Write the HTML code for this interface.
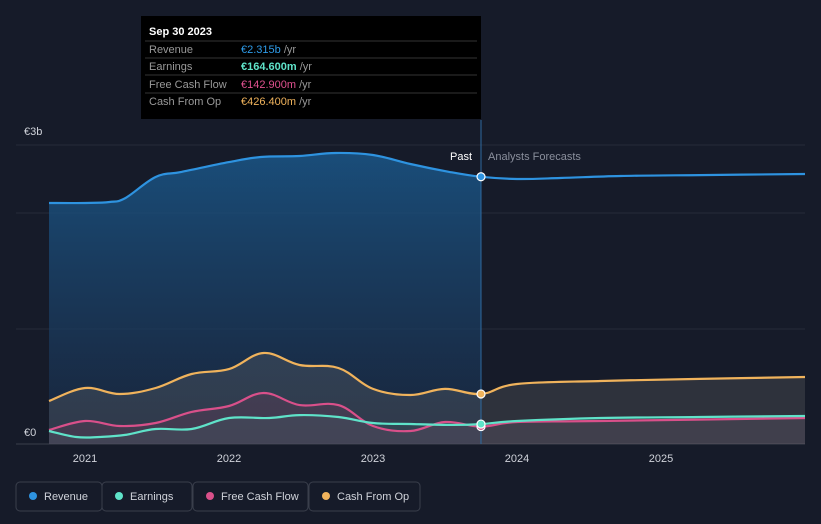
<!DOCTYPE html>
<html><head><meta charset="utf-8"><style>
body{margin:0;background:#161b29;font-family:"Liberation Sans",sans-serif;}
svg{display:block}
</style></head><body>
<svg width="821" height="524" xmlns="http://www.w3.org/2000/svg">
<defs>
<linearGradient id="pg" x1="0" y1="0" x2="0" y2="1"><stop offset="0" stop-color="#1a5688" stop-opacity="0.85"/><stop offset="1" stop-color="#1a2c48" stop-opacity="0.6"/></linearGradient>
<clipPath id="pastclip"><rect x="0" y="0" width="481" height="524"/></clipPath>
</defs>
<rect width="821" height="524" fill="#161b29"/>
<g id="grid"></g>
<g id="areas"></g>
<g id="lines"></g>
<line x1="481" y1="120" x2="481" y2="444" stroke="#2d6aa0" stroke-width="1"/>
<text x="472" y="160" fill="#fff" font-size="11" text-anchor="end">Past</text>
<text x="488" y="160" fill="#8a8f9c" font-size="11">Analysts Forecasts</text>
<text x="24" y="135" fill="#d0d3da" font-size="11">€3b</text>
<text x="24" y="436" fill="#d0d3da" font-size="11">€0</text>
<g id="xt"></g>
<g id="dots"></g>
<g>
<rect x="141" y="16" width="340" height="103" fill="#000"/>
<text x="149" y="35" fill="#fff" font-size="11" font-weight="bold">Sep 30 2023</text>
<line x1="145" y1="41" x2="477" y2="41" stroke="#333"/>
<text x="149" y="53" fill="#999" font-size="11">Revenue</text><text x="241" y="53" font-size="11" fill="#2e9be8">€2.315b <tspan fill="#999">/yr</tspan></text>
<line x1="145" y1="58" x2="477" y2="58" stroke="#333"/>
<text x="149" y="70" fill="#999" font-size="11">Earnings</text><text x="241" y="70" font-size="11" fill="#5fe3c9" font-weight="bold">€164.600m <tspan fill="#999" font-weight="normal">/yr</tspan></text>
<line x1="145" y1="75" x2="477" y2="75" stroke="#333"/>
<text x="149" y="88" fill="#999" font-size="11">Free Cash Flow</text><text x="241" y="88" font-size="11" fill="#e0518f">€142.900m <tspan fill="#999">/yr</tspan></text>
<line x1="145" y1="93" x2="477" y2="93" stroke="#333"/>
<text x="149" y="105" fill="#999" font-size="11">Cash From Op</text><text x="241" y="105" font-size="11" fill="#f0b35c">€426.400m <tspan fill="#999">/yr</tspan></text>
</g>
<g id="legend"></g>
</svg>
<script>
const years=[2021,2022,2023,2024,2025];
const revT=[2020.75,2021,2021.17,2021.28,2021.49,2021.67,2022,2022.22,2022.49,2022.74,2023,2023.26,2023.53,2023.75,2024,2024.3,2024.72,2025.27,2026];
const revV=[2.087,2.087,2.096,2.13,2.313,2.357,2.443,2.487,2.496,2.522,2.504,2.426,2.357,2.315,2.296,2.304,2.322,2.33,2.339];
const cfoT=[2020.75,2021,2021.24,2021.49,2021.74,2022,2022.24,2022.49,2022.76,2023,2023.26,2023.5,2023.75,2024,2024.58,2025.27,2026];
const cfoV=[0.365,0.478,0.426,0.478,0.6,0.643,0.783,0.678,0.652,0.47,0.417,0.47,0.4264,0.513,0.539,0.557,0.574];
const earnT=[2020.75,2020.94,2021.1,2021.28,2021.49,2021.74,2022,2022.28,2022.49,2022.76,2023,2023.26,2023.53,2023.75,2024,2024.58,2025.27,2026];
const earnV=[0.104,0.052,0.052,0.07,0.122,0.122,0.217,0.217,0.243,0.226,0.174,0.165,0.157,0.1646,0.191,0.217,0.226,0.235];
const fcfT=[2020.75,2021,2021.24,2021.49,2021.74,2022,2022.24,2022.49,2022.76,2023,2023.26,2023.5,2023.75,2024,2024.58,2026];
const fcfV=[0.113,0.191,0.148,0.174,0.27,0.322,0.435,0.33,0.33,0.148,0.104,0.183,0.1429,0.183,0.191,0.217];
const X=t=>85+(t-2021)*144, Y=v=>443-v*115;
const NS="http://www.w3.org/2000/svg";
function el(tag,attrs,parent){const e=document.createElementNS(NS,tag);for(const k in attrs)e.setAttribute(k,attrs[k]);document.getElementById(parent).appendChild(e);return e;}
function path(T,V){
 const P=T.map((t,i)=>[X(t),Y(V[i])]);
 let d='M'+P[0][0].toFixed(1)+','+P[0][1].toFixed(1);
 for(let i=0;i<P.length-1;i++){
  const p0=P[Math.max(0,i-1)],p1=P[i],p2=P[i+1],p3=P[Math.min(P.length-1,i+2)];
  const k=0.18;
  const c1=[p1[0]+(p2[0]-p0[0])*k,p1[1]+(p2[1]-p0[1])*k];
  const c2=[p2[0]-(p3[0]-p1[0])*k,p2[1]-(p3[1]-p1[1])*k];
  d+='C'+c1[0].toFixed(1)+','+c1[1].toFixed(1)+' '+c2[0].toFixed(1)+','+c2[1].toFixed(1)+' '+p2[0].toFixed(1)+','+p2[1].toFixed(1);
 }
 return d;
}
[145,213,329,444].forEach(y=>{const g=el('line',{x1:16,x2:805,y1:y,y2:y,stroke:y==444?'#3a3f4c':'#262b39'},'grid');

});
years.forEach(yr=>{const t=el('text',{x:X(yr),y:462,fill:'#d0d3da','font-size':11,'text-anchor':'middle'},'xt');t.textContent=yr;

});
const series=[
 {T:revT,V:revV,c:'#2e93e0',n:'revenue',fill:'url(#pg)',clip:true},
 {T:cfoT,V:cfoV,c:'#f0b35c',n:'cash-from-op',fill:'rgba(110,110,110,0.28)'},
 {T:fcfT,V:fcfV,c:'#d9508a',n:'free-cash-flow',fill:'rgba(150,60,100,0.18)'},
 {T:earnT,V:earnV,c:'#5fe3c9',n:'earnings',fill:'rgba(70,130,130,0.15)'}];
series.forEach(s=>{
 const d=path(s.T,s.V);
 const a=el('path',{d:d+'L'+X(s.T[s.T.length-1])+',444L'+X(s.T[0])+',444Z',fill:s.fill},'areas');
 if(s.clip)a.setAttribute('clip-path','url(#pastclip)');
 
 
 const l=el('path',{d:d,fill:'none',stroke:s.c,'stroke-width':2.2},'lines');
 
 
 const i=s.T.indexOf(2023.75);
 const dt=el('circle',{cx:X(s.T[i]),cy:Y(s.V[i]),r:4,fill:s.c,stroke:'#fff','stroke-width':1.2},'dots');
 
 
});
const leg=[['Revenue','#2e93e0',16,86],['Earnings','#5fe3c9',102,90],['Free Cash Flow','#d9508a',193,115],['Cash From Op','#f0b35c',309,111]];
leg.forEach(([n,c,x,w])=>{
 const g=el('g',{},'legend');
 
 
 const r=document.createElementNS(NS,'rect');r.setAttribute('x',x);r.setAttribute('y',482);r.setAttribute('width',w);r.setAttribute('height',29);r.setAttribute('rx',4);r.setAttribute('fill','none');r.setAttribute('stroke','#3a3f4c');g.appendChild(r);
 const ci=document.createElementNS(NS,'circle');ci.setAttribute('cx',x+17);ci.setAttribute('cy',496);ci.setAttribute('r',4);ci.setAttribute('fill',c);g.appendChild(ci);
 const t=document.createElementNS(NS,'text');t.setAttribute('x',x+28);t.setAttribute('y',500);t.setAttribute('fill','#d0d3da');t.setAttribute('font-size',11);t.textContent=n;g.appendChild(t);
});
</script>
</body></html>
